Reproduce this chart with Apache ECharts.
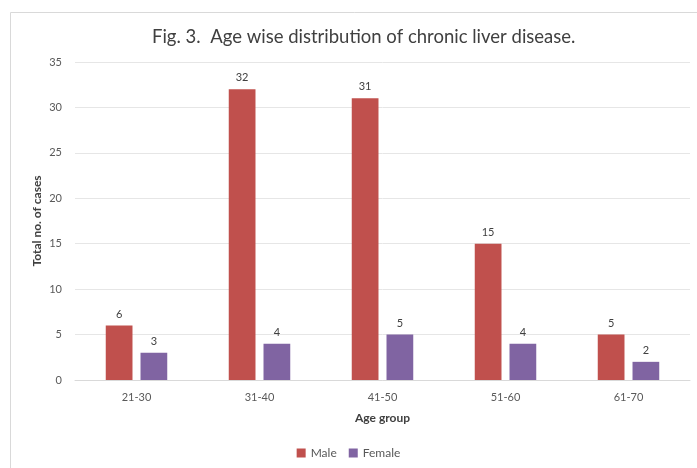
<!DOCTYPE html>
<html><head><meta charset="utf-8">
<script src="https://cdn.jsdelivr.net/npm/echarts@6/dist/echarts.min.js"></script>
<style>html,body{margin:0;padding:0;background:#fff}#c{width:697px;height:468px}</style>
</head><body><div id="c"></div>
<script>
const categories = ['21-30','31-40','41-50','51-60','61-70'];
const male = [6,32,31,15,5];
const female = [3,4,5,4,2];
const chart = echarts.init(document.getElementById('c'));
const font = 'Lato, "Open Sans", sans-serif';
chart.setOption({
  animation:false,
  textStyle:{fontFamily:font},
  graphic:[{type:'rect',shape:{x:10.5,y:12.5,width:700,height:470},style:{fill:'none',stroke:'#d9d9d9',lineWidth:1}}],
  title:{text:'Fig. 3.  Age wise distribution of chronic liver disease.',left:147,top:23,
    textStyle:{fontFamily:font,fontSize:18.5,fontWeight:'normal',color:'#404040'}},
  grid:{left:75,right:7,top:62,bottom:88},
  legend:{data:['Male','Female'],bottom:4,left:'center',itemWidth:9,itemHeight:9,itemGap:12,icon:'rect',
    textStyle:{fontFamily:font,fontSize:12,color:'#595959'}},
  xAxis:{type:'category',data:categories,name:'Age group',nameLocation:'middle',nameGap:32,
    nameTextStyle:{fontFamily:font,fontSize:12,fontWeight:'bold',color:'#404040'},
    axisTick:{show:false},axisLine:{lineStyle:{color:'#d9d9d9'}},
    axisLabel:{color:'#595959',fontSize:11,margin:12}},
  yAxis:{type:'value',min:0,max:35,interval:5,name:'Total no. of cases',nameLocation:'middle',nameGap:32,nameMoveOverlap:false,
    nameTextStyle:{fontFamily:font,fontSize:12,fontWeight:'bold',color:'#404040'},
    axisLine:{show:false},axisTick:{show:false},
    splitLine:{lineStyle:{color:'#e6e6e6'}},
    axisLabel:{color:'#595959',fontSize:11,margin:13}},
  series:[
    {name:'Male',type:'bar',data:male,barGap:'30%',barCategoryGap:'50%',itemStyle:{color:'#C0504D'},
     label:{show:true,position:'top',color:'#404040',fontSize:11,distance:6}},
    {name:'Female',type:'bar',data:female,itemStyle:{color:'#8064A2'},
     label:{show:true,position:'top',color:'#404040',fontSize:11,distance:6}}
  ]
});
</script></body></html>
